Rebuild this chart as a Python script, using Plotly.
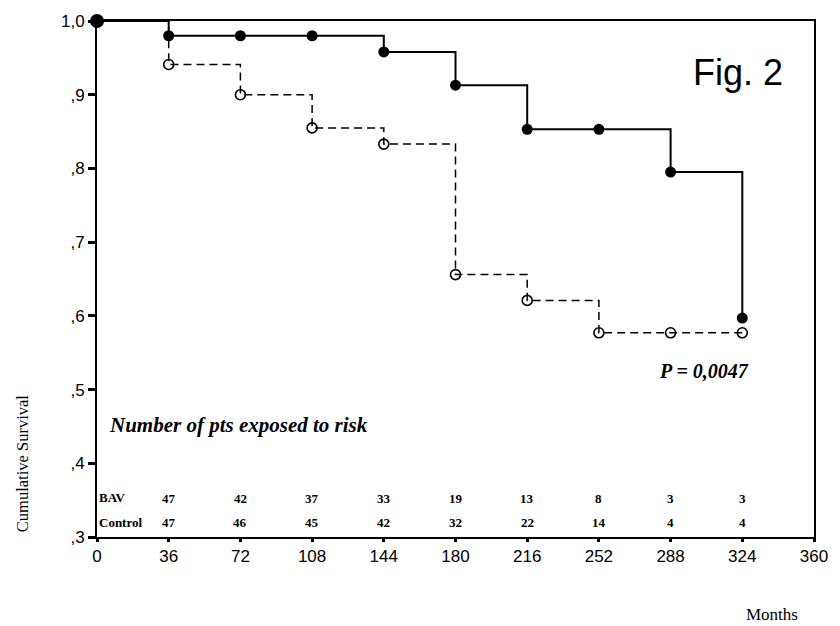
import plotly.graph_objects as go

months = [0, 36, 72, 108, 144, 180, 216, 252, 288, 324]
bav_surv = [1.0, 0.98, 0.98, 0.98, 0.958, 0.913, 0.853, 0.853, 0.795, 0.597]
ctrl_surv = [1.0, 0.941, 0.90, 0.855, 0.833, 0.656, 0.621, 0.577, 0.577, 0.577]

risk_months = [36, 72, 108, 144, 180, 216, 252, 288, 324]
bav_risk = [47, 42, 37, 33, 19, 13, 8, 3, 3]
ctrl_risk = [47, 46, 45, 42, 32, 22, 14, 4, 4]

x_ticks = [0, 36, 72, 108, 144, 180, 216, 252, 288, 324, 360]
y_ticks = [0.3, 0.4, 0.5, 0.6, 0.7, 0.8, 0.9, 1.0]
y_ticktext = [",3", ",4", ",5", ",6", ",7", ",8", ",9", "1,0"]

SERIF = "Liberation Serif"
SANS = "Liberation Sans"

fig = go.Figure()
# Control: dashed line, open circles
fig.add_trace(go.Scatter(x=months, y=ctrl_surv, mode="lines", line_shape="hv",
                         line=dict(color="black", width=1.5, dash="8px,5px"),
                         showlegend=False, cliponaxis=False))
fig.add_trace(go.Scatter(x=months[1:], y=ctrl_surv[1:], mode="markers",
                         marker=dict(symbol="circle-open", size=10, color="black",
                                     line=dict(width=1.6, color="black")),
                         showlegend=False, cliponaxis=False))
# BAV: solid line, filled circles
fig.add_trace(go.Scatter(x=months, y=bav_surv, mode="lines", line_shape="hv",
                         line=dict(color="black", width=2),
                         showlegend=False, cliponaxis=False))
fig.add_trace(go.Scatter(x=months, y=bav_surv, mode="markers",
                         marker=dict(symbol="circle", size=[14] + [11] * (len(months) - 1),
                                     color="black", opacity=1,
                                     line=dict(width=0, color="black")),
                         showlegend=False, cliponaxis=False))

tbl_font = dict(family=SERIF, size=13, color="black", weight="bold")
ann = []
for m, v in zip(risk_months, bav_risk):
    ann.append(dict(x=m, y=0.352, xref="x", yref="y", text=str(v), showarrow=False,
                    font=tbl_font))
for m, v in zip(risk_months, ctrl_risk):
    ann.append(dict(x=m, y=0.319, xref="x", yref="y", text=str(v), showarrow=False,
                    font=tbl_font))
ann.append(dict(x=0, y=0.353, xref="x", yref="y", text="BAV", showarrow=False,
                xanchor="left", font=tbl_font))
ann.append(dict(x=0, y=0.320, xref="x", yref="y", text="Control", showarrow=False,
                xanchor="left", font=tbl_font))
ann.append(dict(x=5, y=0.452, xref="x", yref="y", text="<b><i>Number of pts exposed to risk</i></b>",
                showarrow=False, xanchor="left", yanchor="middle",
                font=dict(family=SERIF, size=21, color="black")))
ann.append(dict(x=305, y=0.5255, xref="x", yref="y", text="<b><i>P = 0,0047</i></b>",
                showarrow=False, xanchor="center", yanchor="middle",
                font=dict(family=SERIF, size=20, color="black")))
ann.append(dict(x=322, y=0.930, xref="x", yref="y", text="Fig. 2",
                showarrow=False, xanchor="center", yanchor="middle",
                font=dict(family=SANS, size=36, color="black")))
ann.append(dict(x=-0.104, y=0.142, xref="paper", yref="paper", text="Cumulative Survival",
                showarrow=False, textangle=-90, xanchor="center", yanchor="middle",
                font=dict(family=SERIF, size=16.5, color="black")))
ann.append(dict(x=0.942, y=-0.150, xref="paper", yref="paper", text="Months",
                showarrow=False, xanchor="center", yanchor="middle",
                font=dict(family=SERIF, size=17, color="black")))

fig.update_layout(
    width=840, height=626,
    margin=dict(l=97, r=21, t=14, b=89),
    plot_bgcolor="white", paper_bgcolor="white",
    annotations=ann,
    xaxis=dict(range=[0, 360], tickvals=x_ticks, ticks="outside", ticklen=3, tickwidth=3,
               tickcolor="black", showline=True, linecolor="black", linewidth=2, mirror=True,
               showgrid=False, zeroline=False,
               tickfont=dict(family=SANS, size=17, color="black")),
    yaxis=dict(range=[0.3, 1.0], tickvals=y_ticks, ticktext=y_ticktext, ticks="outside",
               ticklen=7, tickwidth=3, tickcolor="black", showline=True, linecolor="black",
               linewidth=2, mirror=True, showgrid=False, zeroline=False,
               tickfont=dict(family=SANS, size=17, color="black")),
)

fig.write_html("out.html")
